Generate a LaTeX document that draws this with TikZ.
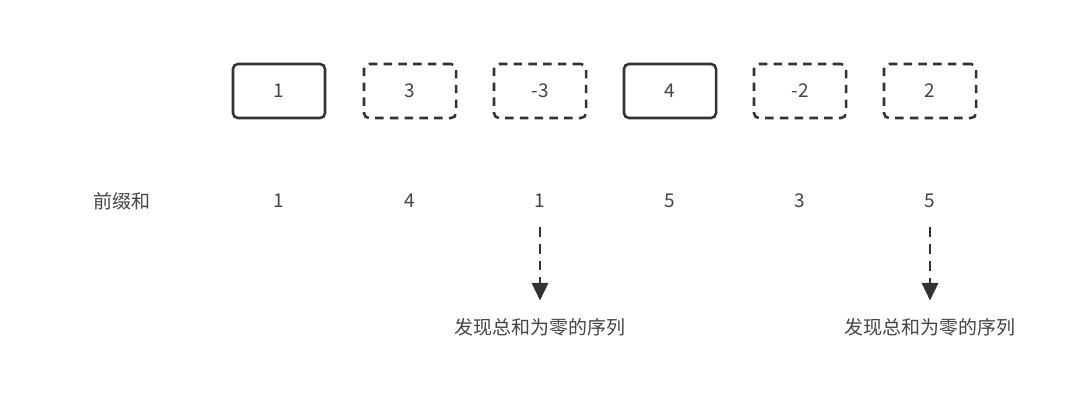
\documentclass[tikz,border=0pt]{standalone}
\usepackage{fontspec}
\setmainfont{Noto Sans CJK SC}
\usepackage{tikz}
\usetikzlibrary{arrows.meta}

\definecolor{ink}{HTML}{333333}
\definecolor{txt}{HTML}{444444}

\tikzset{
	cell/.style={draw=ink, line width=1.8pt, rounded corners=3.5pt, minimum width=2.3cm, minimum height=1.35cm, text=txt, font=\fontsize{13.5}{16}\selectfont},
	gone/.style={cell, dash pattern=on 6pt off 4.5pt},
	sum/.style={text=txt, font=\fontsize{13.5}{16}\selectfont},
}

\begin{document}
\begin{tikzpicture}[x=0.025cm, y=-0.025cm]
			\useasboundingbox (0,0) rectangle (1080,409);

			\node[cell] (c1) at (279,91) {1};
			\node[gone] (c2) at (410,91) {3};
			\node[gone] (c3) at (540,91) {-3};
			\node[cell] (c4) at (670,91) {4};
			\node[gone] (c5) at (800,91) {-2};
			\node[gone] (c6) at (930,91) {2};

			\node[sum] (lbl) at (122,201) {前缀和};
			\node[sum] (p1) at (279,201) {1};
			\node[sum] (p2) at (410,201) {4};
			\node[sum] (p3) at (540,201) {1};
			\node[sum] (p4) at (670,201) {5};
			\node[sum] (p5) at (800,201) {3};
			\node[sum] (p6) at (930,201) {5};

			\node[sum] (f1) at (540,327) {发现总和为零的序列};
			\node[sum] (f2) at (930,327) {发现总和为零的序列};

			\draw[ink, line width=1.9pt, dash pattern=on 7pt off 5pt, -{Triangle[length=12.5pt,width=11.5pt]}, shorten <=10pt, shorten >=9pt] (p3) -- (f1);
			\draw[ink, line width=1.9pt, dash pattern=on 7pt off 5pt, -{Triangle[length=12.5pt,width=11.5pt]}, shorten <=10pt, shorten >=9pt] (p6) -- (f2);
		\end{tikzpicture}
\end{document}
